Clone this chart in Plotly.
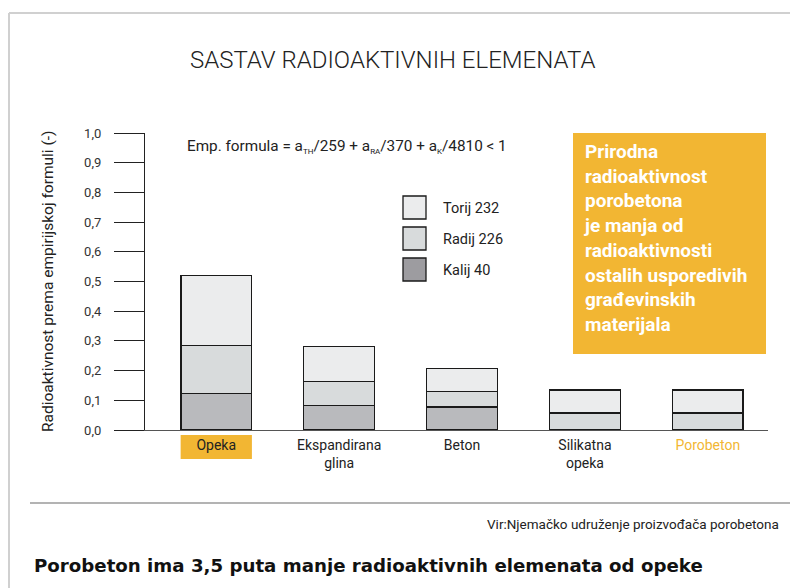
import plotly.graph_objects as go

# ---------------- data ----------------
categories = ["Opeka", "Ekspandirana glina", "Beton", "Silikatna opeka", "Porobeton"]
tick_labels = ["Opeka", "Ekspandirana<br>glina", "Beton", "Silikatna<br>opeka", "Porobeton"]
kalij_40 = [0.122, 0.083, 0.077, 0.0, 0.0]
radij_226 = [0.163, 0.080, 0.052, 0.057, 0.057]
torij_232 = [0.235, 0.119, 0.079, 0.078, 0.078]
series_names = ["Kalij 40", "Radij 226", "Torij 232"]
y_ticks = [0.0, 0.1, 0.2, 0.3, 0.4, 0.5, 0.6, 0.7, 0.8, 0.9, 1.0]

# ---------------- styling ----------------
W, H = 798, 588
OFF = 8  # page body margin
L, R, T, B = 145, 768, 133, 430  # plot area in page pixels
ORANGE = "#f2b633"
FONT = "Roboto"
colors = {"Kalij 40": "#b9babd", "Radij 226": "#d8dbdc", "Torij 232": "#ebeced"}
legend_colors = {"Kalij 40": "#9d9ca0", "Radij 226": "#d8dbdc", "Torij 232": "#ebeced"}


def px(x):
    return (x - L) / (R - L)


def py(y):
    return (B - y) / (B - T)


fig = go.Figure()
for name, vals in zip(series_names, [kalij_40, radij_226, torij_232]):
    fig.add_trace(go.Bar(
        x=categories, y=vals, name=name,
        marker=dict(color=colors[name], line=dict(color="#1a1a1a", width=1.3)),
        width=0.575, showlegend=False,
    ))

shapes = []
annotations = []

# outer frame (top and left)
shapes.append(dict(type="line", xref="paper", yref="paper", x0=px(9), x1=px(810), y0=py(13), y1=py(13),
                   line=dict(color="#d0d0d0", width=2)))
shapes.append(dict(type="line", xref="paper", yref="paper", x0=px(9), x1=px(9), y0=py(13), y1=py(600),
                   line=dict(color="#d0d0d0", width=2)))
# divider
shapes.append(dict(type="line", xref="paper", yref="paper", x0=px(30), x1=px(790), y0=py(503), y1=py(503),
                   line=dict(color="#9a9a9a", width=1.5)))
# orange info box
shapes.append(dict(type="rect", xref="paper", yref="paper", x0=px(573), x1=px(766), y0=py(133), y1=py(354),
                   fillcolor=ORANGE, line=dict(width=0), layer="above"))
# Opeka label background
shapes.append(dict(type="rect", xref="x", yref="paper", x0=-0.29, x1=0.29, y0=py(435), y1=py(459),
                   fillcolor=ORANGE, line=dict(width=0), layer="below"))

# legend (manual)
for i, name in enumerate(["Torij 232", "Radij 226", "Kalij 40"]):
    top = 196 + i * 31
    shapes.append(dict(type="rect", xref="paper", yref="paper", x0=px(403), x1=px(426), y0=py(top), y1=py(top + 23),
                       fillcolor=legend_colors[name], line=dict(color="#1a1a1a", width=1.3)))
    annotations.append(dict(xref="paper", yref="paper", x=px(441), y=py(top + 12), text=name, showarrow=False,
                            xanchor="left", yanchor="middle", font=dict(family=FONT, size=14.5, color="#222")))

# title
annotations.append(dict(xref="paper", yref="paper", x=px(392), y=py(60), text="SASTAV RADIOAKTIVNIH ELEMENATA",
                        showarrow=False, xanchor="center", yanchor="middle",
                        font=dict(family=FONT, size=24, color="#222", weight=300)))
# formula
sub = "<sub><span style='font-size:8px'>{}</span></sub>"
formula = ("Emp. formula = a" + sub.format("TH") + "/259 + a" + sub.format("RA") + "/370 + a"
           + sub.format("K") + "/4810 &lt; 1")
annotations.append(dict(xref="paper", yref="paper", x=px(185), y=py(146), text=formula,
                        showarrow=False, xanchor="left", yanchor="middle",
                        font=dict(family=FONT, size=15.3, color="#222")))
# y axis title
annotations.append(dict(xref="paper", yref="paper", x=px(48), y=py(282),
                        text="Radioaktivnost prema empirijskoj formuli (-)", textangle=-90,
                        showarrow=False, xanchor="center", yanchor="middle",
                        font=dict(family=FONT, size=15.5, color="#222")))
# info box text
info = ("Prirodna<br>radioaktivnost<br>porobetona<br>je manja od<br>radioaktivnosti<br>"
        "ostalih usporedivih<br>građevinskih<br>materijala")
annotations.append(dict(xref="paper", yref="paper", x=px(582), y=py(138), text="<b>" + info + "</b>",
                        showarrow=False, xanchor="left", yanchor="top", align="left",
                        font=dict(family=FONT, size=19, color="white")))
# source
annotations.append(dict(xref="paper", yref="paper", x=px(781), y=py(524),
                        text="Vir:Njemačko udruženje proizvođača porobetona",
                        showarrow=False, xanchor="right", yanchor="middle",
                        font=dict(family=FONT, size=13.5, color="#222")))
# bottom headline
annotations.append(dict(xref="paper", yref="paper", x=px(32), y=py(565),
                        text="<b>Porobeton ima 3,5 puta manje radioaktivnih elemenata od opeke</b>",
                        showarrow=False, xanchor="left", yanchor="middle",
                        font=dict(family="DejaVu Sans", size=18.2, color="#111")))

ticktext = [t if c != "Porobeton" else f"<span style='color:{ORANGE}'>{t}</span>"
            for c, t in zip(categories, tick_labels)]

fig.update_layout(
    width=W, height=H,
    margin=dict(l=L - OFF, r=W - (R - OFF), t=T - OFF, b=H - (B - OFF), pad=0),
    paper_bgcolor="white", plot_bgcolor="white",
    barmode="stack", separators=",.",
    font=dict(family=FONT, size=14, color="#222"),
    shapes=shapes, annotations=annotations,
    xaxis=dict(range=[-0.58, 4.49], tickmode="array", tickvals=categories, ticktext=ticktext,
               showline=True, linecolor="#555", linewidth=1.3, ticks="", showgrid=False,
               zeroline=False, tickfont=dict(family=FONT, size=14, color="#222"), ticklabelstandoff=2),
    yaxis=dict(range=[0, 1.0], tickvals=y_ticks, tickformat=".1f", showline=True, linecolor="#222",
               linewidth=1.3, ticks="outside", ticklen=30, tickcolor="#222", tickwidth=1.3,
               showgrid=False, zeroline=False, ticklabelstandoff=10,
               tickfont=dict(family=FONT, size=13, color="#333")),
)

fig.write_html("out.html")
